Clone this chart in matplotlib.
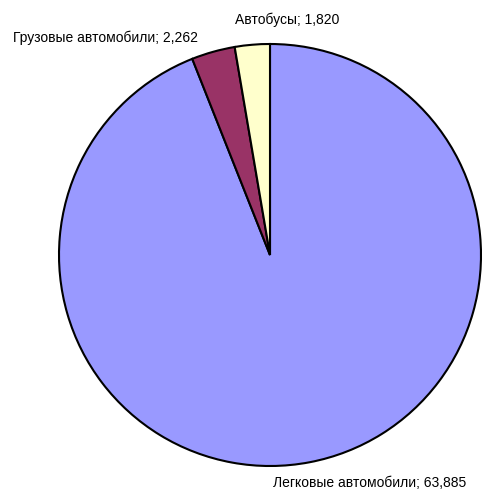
import matplotlib
matplotlib.use("Agg")
import matplotlib.pyplot as plt

categories = ["Легковые автомобили", "Грузовые автомобили", "Автобусы"]
values = [63.885, 2.262, 1.820]
colors = ["#9999FF", "#993366", "#FFFFCC"]

plt.rcParams['font.family'] = ['Liberation Sans', 'DejaVu Sans']

fig = plt.figure(figsize=(5, 4.97), dpi=100)
cx, cy, r = 270, 255, 211
W, H = 500, 497
ax = fig.add_axes([(cx - r) / W, (H - cy - r) / H, 2 * r / W, 2 * r / H])
wedges, _ = ax.pie(values, colors=colors, startangle=90, counterclock=False,
                   wedgeprops=dict(edgecolor="black", linewidth=1.5))
for w in wedges:
    w.set_clip_on(False)
ax.set_xlim(-1, 1)
ax.set_ylim(-1, 1)
ax.set_aspect("equal")
ax.axis("off")

def fmt(v):
    return f"{v:,.3f}".replace(".", ",")

label_pos = [(273, 483), (13, 38), (235, 20)]
for cat, v, (x, y) in zip(categories, values, label_pos):
    fig.text(x / W, 1 - y / H, f"{cat}; {fmt(v)}", ha="left", va="center",
             fontsize=10, color="black")

fig.savefig("out.png", dpi=100)
